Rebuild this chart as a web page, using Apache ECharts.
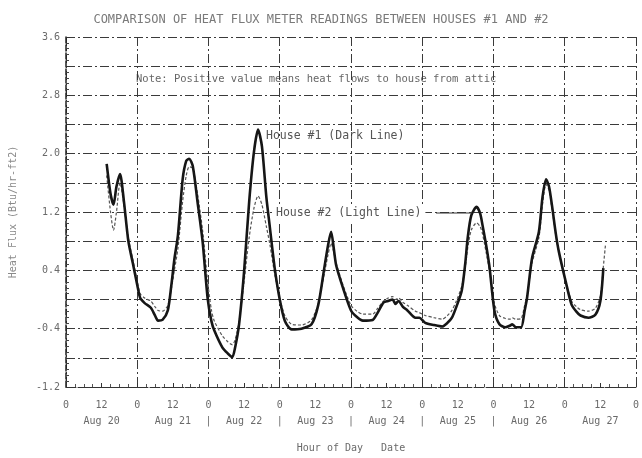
<!DOCTYPE html>
<html>
<head>
<meta charset="utf-8">
<script src="https://cdn.jsdelivr.net/npm/echarts@6/dist/echarts.min.js"></script>
<style>
html,body{margin:0;padding:0;background:#fff}
#chart{width:642px;height:458px}
</style>
</head>
<body>
<div id="chart"></div>
<script>
// hours counted from Aug 20 00:00
var hours = [13.7,15,16,17,18.2,19.5,21,22.5,24,25,26.5,28.5,30,31,32.5,34.3,35.5,36.5,37.7,39.3,
  40.5,41.5,42.7,44.3,46,47.7,49,50,52.7,54.5,56,57,58.3,60,61.7,63.3,64.7,66,67.5,68.7,
  70.3,72,73.7,76,79.3,82.7,85,87,88.3,89.3,90.2,91,93.3,96,98,100,103.3,105,107,108.5,
  110,111,112,113.5,115,117.7,119,121,124,126.7,128.5,130,131.5,133.3,134.5,135.3,136.5,138.3,139.5,140.3,
  141.5,142.7,144.3,146,148,149.5,150.3,151.5,153.3,154.5,155.3,157,159.3,160.5,161.7,162.7,163.7,165,166,168.3,
  170.3,172,173.3,176,178.3,180,181,181.7];

// House #1 (dark line)
var house1 = [1.86,1.45,1.30,1.55,1.72,1.35,0.80,0.50,0.20,0.02,-0.05,-0.11,-0.22,-0.29,-0.28,-0.15,0.20,0.55,0.88,1.65,
  1.90,1.93,1.83,1.34,0.80,0.02,-0.30,-0.43,-0.66,-0.74,-0.79,-0.65,-0.34,0.39,1.34,2.02,2.33,2.10,1.40,0.98,
  0.43,0.00,-0.29,-0.41,-0.40,-0.34,-0.07,0.43,0.75,0.93,0.70,0.47,0.16,-0.15,-0.24,-0.29,-0.28,-0.18,-0.04,-0.02,
  0.00,-0.06,-0.02,-0.10,-0.15,-0.25,-0.25,-0.32,-0.35,-0.37,-0.32,-0.25,-0.10,0.12,0.50,0.84,1.15,1.27,1.18,1.02,
  0.75,0.43,-0.15,-0.34,-0.38,-0.36,-0.34,-0.38,-0.38,-0.15,0.02,0.57,0.93,1.40,1.65,1.55,1.29,0.90,0.66,0.25,
  -0.07,-0.17,-0.22,-0.25,-0.21,-0.02,0.43,null];

// House #2 (light line)
var house2 = [1.70,1.20,0.95,1.20,1.60,1.30,0.85,0.55,0.25,0.08,0.02,-0.02,-0.10,-0.15,-0.16,-0.08,0.15,0.40,0.70,1.35,
  1.70,1.82,1.80,1.45,0.95,0.25,-0.15,-0.30,-0.50,-0.58,-0.62,-0.55,-0.30,0.25,0.85,1.25,1.42,1.30,1.00,0.75,
  0.35,0.02,-0.22,-0.34,-0.35,-0.28,-0.05,0.35,0.62,0.77,0.65,0.50,0.20,-0.08,-0.16,-0.20,-0.20,-0.12,-0.02,0.02,
  0.04,0.00,0.02,-0.04,-0.08,-0.16,-0.18,-0.22,-0.25,-0.27,-0.22,-0.15,-0.02,0.18,0.45,0.70,0.95,1.05,1.00,0.90,
  0.65,0.38,-0.05,-0.22,-0.26,-0.27,-0.25,-0.27,-0.26,-0.08,0.05,0.50,0.85,1.30,1.58,1.50,1.25,0.88,0.65,0.25,
  -0.02,-0.10,-0.14,-0.16,-0.12,0.05,0.45,0.74];

var dayNames = ['Aug 20','Aug 21','Aug 22','Aug 23','Aug 24','Aug 25','Aug 26','Aug 27'];

var mono = 'DejaVu Sans Mono';
var txtColor = '#6a6a6a';
var gridStyle = { color: '#3a3a3a', width: 1, type: [9, 3, 2, 3] };

function pairs(vals) {
  var out = [];
  for (var i = 0; i < hours.length; i++) out.push([hours[i], vals[i]]);
  return out;
}

function hourLabel(v) {
  var d = Math.floor(v / 24);
  if (v % 24 == 12) return '12\n' + dayNames[d];
  if (v >= 48 && v <= 144) return '0\n|';
  return '0';
}

var myChart = echarts.init(document.getElementById('chart'));
var option = {
  backgroundColor: '#fff',
  animation: false,
  title: {
    text: 'COMPARISON OF HEAT FLUX METER READINGS BETWEEN HOUSES #1 AND #2',
    left: 'center',
    top: 9,
    textStyle: { fontFamily: mono, fontSize: 12, fontWeight: 'normal', color: '#7a7a7a' }
  },
  grid: { left: 62, right: 3, top: 37, bottom: 68 },
  xAxis: [{
    type: 'value',
    min: 0, max: 192, interval: 12,
    name: 'Hour of Day   Date',
    nameLocation: 'middle',
    nameGap: 56,
    nameTextStyle: { fontFamily: mono, fontSize: 10, color: txtColor },
    axisLine: { onZero: false, lineStyle: { color: '#333', type: [10, 2] } },
    axisTick: { inside: true, length: 4, lineStyle: { color: '#333' } },
    minorTick: { show: true, splitNumber: 4, length: 3, lineStyle: { color: '#555' } },
    axisLabel: {
      formatter: hourLabel, margin: 10, lineHeight: 16,
      fontFamily: mono, fontSize: 10, color: txtColor
    },
    splitLine: { show: false }
  }, {
    type: 'value',
    min: 0, max: 192, interval: 24,
    position: 'bottom',
    axisLine: { show: false, onZero: false },
    axisTick: { show: false },
    axisLabel: { show: false },
    splitLine: { show: true, lineStyle: gridStyle }
  }],
  yAxis: {
    type: 'value',
    min: -1.2, max: 3.6, interval: 0.4,
    name: 'Heat Flux (Btu/hr-ft2)',
    nameLocation: 'middle',
    nameGap: 48,
    nameTextStyle: { fontFamily: mono, fontSize: 10, color: '#8a8a8a' },
    axisLine: { show: true, onZero: false, lineStyle: { color: '#222', width: 1.5, type: [6, 2] } },
    axisTick: { inside: true, length: 4, lineStyle: { color: '#333' } },
    minorTick: { show: true, splitNumber: 5, length: 3, lineStyle: { color: '#444' } },
    axisLabel: {
      formatter: function (v, i) { return i % 2 == 0 ? v.toFixed(1) : ''; },
      margin: 6, fontFamily: mono, fontSize: 10, color: txtColor
    },
    splitLine: { show: true, lineStyle: gridStyle }
  },
  series: [{
    name: 'House #2',
    type: 'line',
    xAxisIndex: 0,
    data: pairs(house2),
    showSymbol: false,
    smooth: 0.25,
    lineStyle: { color: '#555', width: 1.2, type: [3, 2] },
    z: 3
  }, {
    name: 'House #1',
    type: 'line',
    xAxisIndex: 0,
    data: pairs(house1),
    showSymbol: false,
    smooth: 0.25,
    connectNulls: false,
    lineStyle: { color: '#161616', width: 2.6 },
    z: 4
  }],
  graphic: [{
    type: 'text', left: 136, top: 74,
    style: { text: 'Note: Positive value means heat flows to house from attic',
      font: '10.5px "DejaVu Sans Mono"', fill: '#666' }
  }, {
    type: 'text', left: 266, top: 130,
    style: { text: 'House #1 (Dark Line)', font: '11.5px "DejaVu Sans Mono"', fill: '#555' }
  }, {
    type: 'line', z: 10,
    shape: { x1: 436, y1: 213, x2: 472, y2: 213 },
    style: { stroke: '#333', lineWidth: 1.2 }
  }, {
    type: 'text', left: 272, top: 205, z: 11,
    style: { text: 'House #2 (Light Line)', font: '11.5px "DejaVu Sans Mono"', fill: '#555',
      backgroundColor: '#fff', padding: [2, 4] }
  }]
};
myChart.setOption(option);
</script>
</body>
</html>
